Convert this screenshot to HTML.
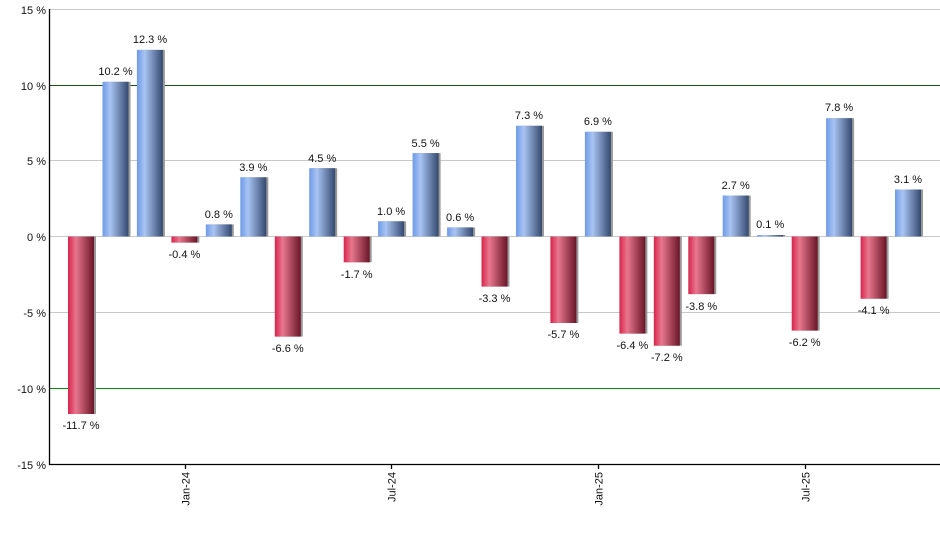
<!DOCTYPE html>
<html><head><meta charset="utf-8"><style>body{margin:0;background:#fff}svg{display:block}text{font-family:"Liberation Sans",Arial,sans-serif;font-size:11px;fill:#111}</style></head><body>
<svg width="940" height="550" xmlns="http://www.w3.org/2000/svg">
<defs>
<linearGradient id="b" x1="0" x2="1"><stop offset="0" stop-color="#6e9ae6"/><stop offset="0.3" stop-color="#a9c4f3"/><stop offset="1" stop-color="#34496f"/></linearGradient>
<linearGradient id="r" x1="0" x2="1"><stop offset="0" stop-color="#d6244c"/><stop offset="0.3" stop-color="#e8778e"/><stop offset="1" stop-color="#6a1528"/></linearGradient>
</defs>
<g stroke="#c8c8c8" stroke-width="1">
<line x1="49" x2="940" y1="9.5" y2="9.5"/><line x1="49" x2="940" y1="160.5" y2="160.5"/><line x1="49" x2="940" y1="236.5" y2="236.5"/><line x1="49" x2="940" y1="312.5" y2="312.5"/></g>
<line x1="49" x2="940" y1="85.5" y2="85.5" stroke="#1d4d1d"/>
<line x1="49" x2="940" y1="388.5" y2="388.5" stroke="#0a8a0a"/>
<g text-anchor="end">
<text x="46" y="14">15 %</text><text x="46" y="90">10 %</text><text x="46" y="165">5 %</text><text x="46" y="241">0 %</text><text x="46" y="317">-5 %</text><text x="46" y="393">-10 %</text><text x="46" y="469">-15 %</text></g>
<g id="bars">
<rect x="70" y="236.5" width="26" height="177.5" fill="#999"/><rect x="68" y="236.5" width="26" height="177.5" fill="url(#r)"/>
<rect x="104.5" y="81.8" width="26" height="154.7" fill="#999"/><rect x="102.5" y="81.8" width="26" height="154.7" fill="url(#b)"/>
<rect x="138.9" y="49.9" width="26" height="186.6" fill="#999"/><rect x="136.9" y="49.9" width="26" height="186.6" fill="url(#b)"/>
<rect x="173.4" y="236.5" width="26" height="6.1" fill="#999"/><rect x="171.4" y="236.5" width="26" height="6.1" fill="url(#r)"/>
<rect x="207.8" y="224.4" width="26" height="12.1" fill="#999"/><rect x="205.8" y="224.4" width="26" height="12.1" fill="url(#b)"/>
<rect x="242.3" y="177.3" width="26" height="59.2" fill="#999"/><rect x="240.3" y="177.3" width="26" height="59.2" fill="url(#b)"/>
<rect x="276.8" y="236.5" width="26" height="100.1" fill="#999"/><rect x="274.8" y="236.5" width="26" height="100.1" fill="url(#r)"/>
<rect x="311.2" y="168.2" width="26" height="68.3" fill="#999"/><rect x="309.2" y="168.2" width="26" height="68.3" fill="url(#b)"/>
<rect x="345.7" y="236.5" width="26" height="25.8" fill="#999"/><rect x="343.7" y="236.5" width="26" height="25.8" fill="url(#r)"/>
<rect x="380.1" y="221.3" width="26" height="15.2" fill="#999"/><rect x="378.1" y="221.3" width="26" height="15.2" fill="url(#b)"/>
<rect x="414.6" y="153.1" width="26" height="83.4" fill="#999"/><rect x="412.6" y="153.1" width="26" height="83.4" fill="url(#b)"/>
<rect x="449.1" y="227.4" width="26" height="9.1" fill="#999"/><rect x="447.1" y="227.4" width="26" height="9.1" fill="url(#b)"/>
<rect x="483.5" y="236.5" width="26" height="50.1" fill="#999"/><rect x="481.5" y="236.5" width="26" height="50.1" fill="url(#r)"/>
<rect x="518" y="125.8" width="26" height="110.7" fill="#999"/><rect x="516" y="125.8" width="26" height="110.7" fill="url(#b)"/>
<rect x="552.4" y="236.5" width="26" height="86.5" fill="#999"/><rect x="550.4" y="236.5" width="26" height="86.5" fill="url(#r)"/>
<rect x="586.9" y="131.8" width="26" height="104.7" fill="#999"/><rect x="584.9" y="131.8" width="26" height="104.7" fill="url(#b)"/>
<rect x="621.4" y="236.5" width="26" height="97.1" fill="#999"/><rect x="619.4" y="236.5" width="26" height="97.1" fill="url(#r)"/>
<rect x="655.8" y="236.5" width="26" height="109.2" fill="#999"/><rect x="653.8" y="236.5" width="26" height="109.2" fill="url(#r)"/>
<rect x="690.3" y="236.5" width="26" height="57.6" fill="#999"/><rect x="688.3" y="236.5" width="26" height="57.6" fill="url(#r)"/>
<rect x="724.7" y="195.5" width="26" height="41" fill="#999"/><rect x="722.7" y="195.5" width="26" height="41" fill="url(#b)"/>
<rect x="759.2" y="235" width="26" height="1.5" fill="#999"/><rect x="757.2" y="235" width="26" height="1.5" fill="url(#b)"/>
<rect x="793.7" y="236.5" width="26" height="94.1" fill="#999"/><rect x="791.7" y="236.5" width="26" height="94.1" fill="url(#r)"/>
<rect x="828.1" y="118.2" width="26" height="118.3" fill="#999"/><rect x="826.1" y="118.2" width="26" height="118.3" fill="url(#b)"/>
<rect x="862.6" y="236.5" width="26" height="62.2" fill="#999"/><rect x="860.6" y="236.5" width="26" height="62.2" fill="url(#r)"/>
<rect x="897" y="189.5" width="26" height="47" fill="#999"/><rect x="895" y="189.5" width="26" height="47" fill="url(#b)"/>
</g>
<g text-anchor="middle">
<text x="81" y="429">-11.7 %</text><text x="115.5" y="75">10.2 %</text><text x="150" y="43">12.3 %</text><text x="184.4" y="258">-0.4 %</text><text x="218.8" y="218">0.8 %</text><text x="253.3" y="171">3.9 %</text><text x="287.8" y="352">-6.6 %</text><text x="322.2" y="162">4.5 %</text><text x="356.7" y="278">-1.7 %</text><text x="391.1" y="215">1.0 %</text><text x="425.6" y="147">5.5 %</text><text x="460.1" y="221">0.6 %</text><text x="494.5" y="302">-3.3 %</text><text x="529" y="119">7.3 %</text><text x="563.4" y="338">-5.7 %</text><text x="597.9" y="125">6.9 %</text><text x="632.4" y="349">-6.4 %</text><text x="666.8" y="361">-7.2 %</text><text x="701.3" y="310">-3.8 %</text><text x="735.7" y="189">2.7 %</text><text x="770.2" y="228">0.1 %</text><text x="804.7" y="346">-6.2 %</text><text x="839.1" y="111">7.8 %</text><text x="873.6" y="314">-4.1 %</text><text x="908" y="183">3.1 %</text>
</g>
<g stroke="#000" stroke-width="1.3"><line x1="49.5" x2="49.5" y1="9" y2="465"/><line x1="49" x2="940" y1="464.5" y2="464.5"/>
<line x1="185.5" x2="185.5" y1="464" y2="469"/><line x1="391.5" x2="391.5" y1="464" y2="469"/><line x1="598.5" x2="598.5" y1="464" y2="469"/><line x1="805.5" x2="805.5" y1="464" y2="469"/></g>
<g text-anchor="end">
<text transform="translate(189.5,472) rotate(-90)">Jan-24</text>
<text transform="translate(395.5,472) rotate(-90)">Jul-24</text>
<text transform="translate(602.5,472) rotate(-90)">Jan-25</text>
<text transform="translate(809.5,472) rotate(-90)">Jul-25</text>
</g>
</svg>
</body></html>
